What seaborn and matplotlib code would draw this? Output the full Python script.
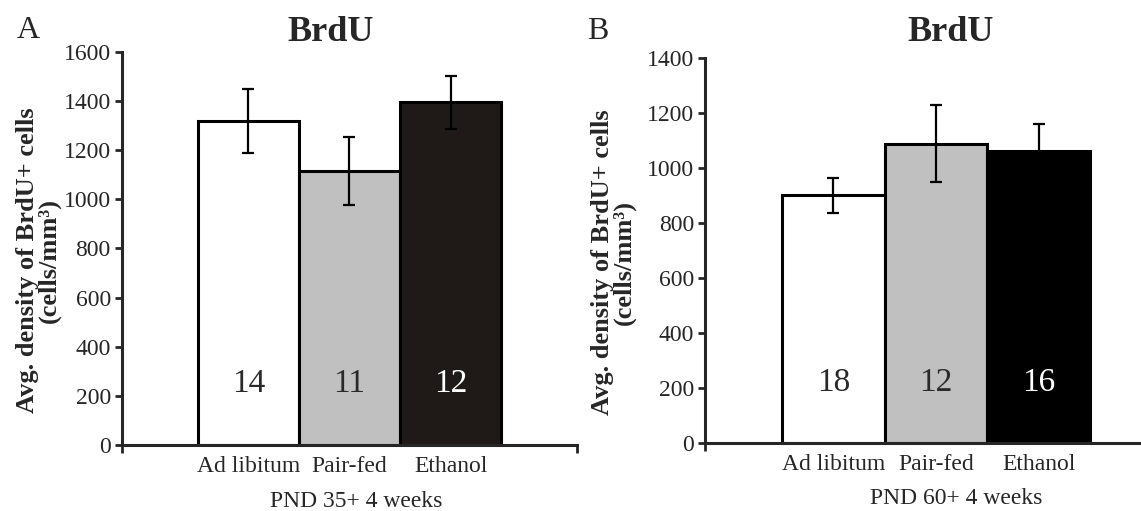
import matplotlib.pyplot as plt
import matplotlib.transforms as mtransforms
import seaborn as sns

groups = ["Ad libitum", "Pair-fed", "Ethanol"]

means_a = [1320, 1115, 1395]
err_a = [130, 137, 108]
n_a = [14, 11, 12]
colors_a = ["#ffffff", "#c0c0c0", "#1f1a17"]
yticks_a = [0, 200, 400, 600, 800, 1000, 1200, 1400, 1600]

means_b = [900, 1088, 1063]
err_b = [62, 140, 97]
n_b = [18, 12, 16]
colors_b = ["#ffffff", "#c0c0c0", "#000000"]
yticks_b = [0, 200, 400, 600, 800, 1000, 1200, 1400]

sns.set_style("ticks")
plt.rcParams["font.family"] = ["Liberation Serif", "DejaVu Serif"]


def draw_panel(ax, means, errs, ns, colors, yticks, xlabel, ylabel_x, xlabel_x):
    sns.barplot(x=groups, y=means, hue=groups, palette=colors, saturation=1,
                width=1.0, edgecolor="black", linewidth=2.2, legend=False, ax=ax)
    ax.errorbar(range(len(groups)), means, yerr=errs, fmt="none", ecolor="black",
                elinewidth=1.6, capsize=4.5, capthick=1.6, zorder=5)

    trans = mtransforms.blended_transform_factory(ax.transData, ax.transAxes)
    for i, n in enumerate(ns):
        txt_color = "white" if i == 2 else "#2a2a2a"
        ax.text(i, 0.157, str(n), transform=trans, ha="center", va="center",
                fontsize=24, color=txt_color)

    ax.set_xlim(-1.25, 3.25)
    ax.set_ylim(yticks[0], yticks[-1])
    ax.set_yticks(yticks)
    ax.set_xticks(range(len(groups)))
    ax.set_xticklabels(groups)
    ax.set_xticks([-1.25, 3.25], minor=True)

    sns.despine(ax=ax)
    for side in ["left", "bottom"]:
        ax.spines[side].set_linewidth(2.2)
    ax.tick_params(axis="y", length=5, width=2, direction="out", labelsize=17, pad=3)
    ax.tick_params(axis="x", which="major", length=0, labelsize=17, pad=8)
    ax.tick_params(axis="x", which="minor", length=6, width=2, direction="out")

    ax.set_ylabel("Avg. density of BrdU+ cells\n(cells/mm³)", fontweight="bold",
                  fontsize=19, linespacing=0.9)
    ax.yaxis.set_label_coords(ylabel_x, 0.47)
    ax.set_xlabel(xlabel, fontsize=17)
    ax.xaxis.set_label_coords(xlabel_x, -0.118)


fig = plt.figure(figsize=(11.41, 5.11), dpi=100)
ax_a = fig.add_axes([0.1069, 0.1292, 0.3988, 0.769])
ax_b = fig.add_axes([0.6179, 0.1331, 0.405, 0.7534])

draw_panel(ax_a, means_a, err_a, n_a, colors_a, yticks_a, "PND 35+ 4 weeks", -0.135, 0.514)
draw_panel(ax_b, means_b, err_b, n_b, colors_b, yticks_b, "PND 60+ 4 weeks", -0.150, 0.543)

fig.text(0.290, 0.92, "BrdU", ha="center", va="baseline", fontsize=26, fontweight="bold")
fig.text(0.8335, 0.92, "BrdU", ha="center", va="baseline", fontsize=26, fontweight="bold")
fig.text(0.0149, 0.925, "A", ha="left", va="baseline", fontsize=23)
fig.text(0.5145, 0.923, "B", ha="left", va="baseline", fontsize=23)

fig.savefig("out.png", dpi=100)
